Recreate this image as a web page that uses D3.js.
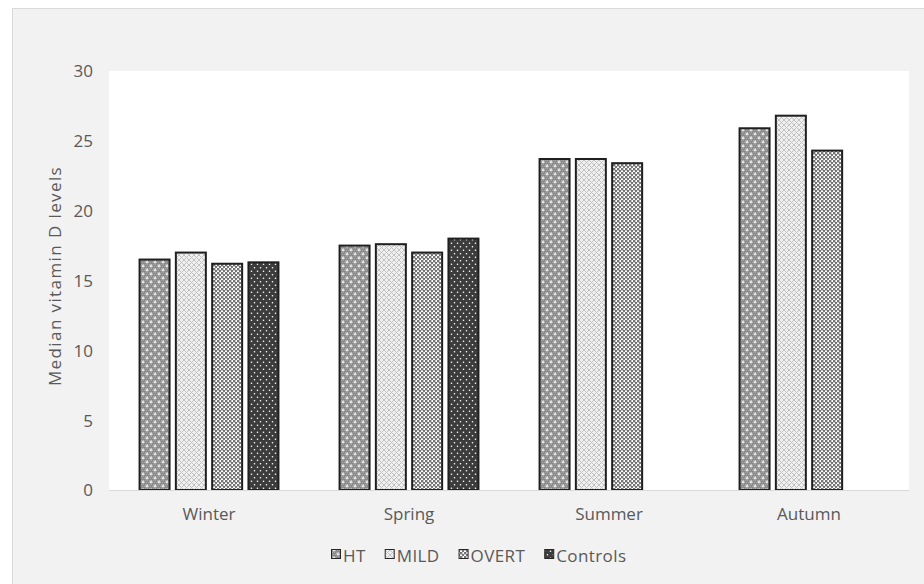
<!DOCTYPE html>
<html>
<head>
<meta charset="utf-8">
<script src="https://cdn.jsdelivr.net/npm/d3@7"></script>
<style>
  html, body { margin: 0; padding: 0; background: #ffffff; }
  svg { display: block; }
  text { font-family: "Open Sans", "DejaVu Sans", sans-serif; fill: #595959; }
</style>
</head>
<body>
<svg id="chart" width="924" height="584"></svg>
<script>
// Median vitamin D levels by season and group
const categories = ["Winter", "Spring", "Summer", "Autumn"];
const seriesNames = ["HT", "MILD", "OVERT", "Controls"];
const htValues       = [16.5, 17.5, 23.7, 25.9];
const mildValues     = [17.0, 17.6, 23.7, 26.8];
const overtValues    = [16.2, 17.0, 23.4, 24.3];
const controlsValues = [16.3, 18.0, null, null];
const yTicks = [0, 5, 10, 15, 20, 25, 30];
const yTitle = "Median vitamin D levels";

const seriesValues = [htValues, mildValues, overtValues, controlsValues];

const svg = d3.select("#chart");
const plot = { left: 109, right: 909, top: 71, bottom: 490 };

// Hatch-style fills, one per group
const defs = svg.append("defs");
function pattern(id, w, h) {
  return defs.append("pattern").attr("id", id)
    .attr("patternUnits", "userSpaceOnUse").attr("width", w).attr("height", h);
}
// HT: grey with small white crosses
{
  const p = pattern("fill-ht", 8, 8);
  p.append("rect").attr("width", 8).attr("height", 8).attr("fill", "#8a8a8a");
  for (let i = 0; i < 8; i += 2) for (let j = 0; j < 8; j += 2)
    p.append("rect").attr("x", i + ((j / 2) % 2)).attr("y", j).attr("width", 1).attr("height", 1).attr("fill", "#a8a8a8");
  [[2, 2], [6, 6]].forEach(([cx, cy]) => {
    p.append("rect").attr("x", cx - 1.5).attr("y", cy - 0.5).attr("width", 3).attr("height", 1).attr("fill", "#ffffff");
    p.append("rect").attr("x", cx - 0.5).attr("y", cy - 1.5).attr("width", 1).attr("height", 3).attr("fill", "#ffffff");
  });
}
// MILD: light diamond lattice
{
  const p = pattern("fill-mild", 5, 5);
  p.append("rect").attr("width", 5).attr("height", 5).attr("fill", "#f0f0f0");
  p.append("path").attr("d", "M0,0L5,5M5,0L0,5").attr("stroke", "#c2c2c2").attr("stroke-width", 1);
}
// OVERT: checkerboard
{
  const p = pattern("fill-overt", 4, 4);
  p.append("rect").attr("width", 4).attr("height", 4).attr("fill", "#ffffff");
  p.append("rect").attr("x", 0).attr("y", 0).attr("width", 2.4).attr("height", 2.4).attr("fill", "#767676");
  p.append("rect").attr("x", 2).attr("y", 2).attr("width", 2.4).attr("height", 2.4).attr("fill", "#767676");
}
// Controls: dark with white dots
{
  const p = pattern("fill-controls", 6, 7);
  p.append("rect").attr("width", 6).attr("height", 7).attr("fill", "#3c3c3c");
  p.append("circle").attr("cx", 1.5).attr("cy", 1.75).attr("r", 0.8).attr("fill", "#ffffff");
  p.append("circle").attr("cx", 4.5).attr("cy", 5.25).attr("r", 0.8).attr("fill", "#ffffff");
}
const fills = ["url(#fill-ht)", "url(#fill-mild)", "url(#fill-overt)", "url(#fill-controls)"];

// Chart area and plot area backgrounds
svg.append("rect").attr("x", 12.5).attr("y", 8.5).attr("width", 940).attr("height", 600)
  .attr("fill", "#f2f2f2").attr("stroke", "#d9d9d9").attr("stroke-width", 1);
svg.append("rect").attr("x", plot.left).attr("y", plot.top)
  .attr("width", plot.right - plot.left).attr("height", plot.bottom - plot.top)
  .attr("fill", "#ffffff");

// Scales
const x0 = d3.scaleBand().domain(categories).range([plot.left, plot.right]).padding(0);
const x1 = d3.scaleBand().domain(seriesNames).range([0, x0.bandwidth()])
  .paddingInner(0.1736).paddingOuter(0.842);
const y = d3.scaleLinear().domain([0, 30]).range([plot.bottom, plot.top]);

// Y axis labels
const yAxis = d3.axisLeft(y).tickValues(yTicks).tickSize(0).tickPadding(0);
const yg = svg.append("g").attr("transform", `translate(${plot.left - 16},0)`).call(yAxis);
yg.select(".domain").remove();
yg.selectAll("text").style("font-size", "17px").attr("fill", "#595959")
  .attr("font-family", null).attr("dy", "0.35em");

// Bars
const groups = svg.append("g").selectAll("g").data(categories).join("g")
  .attr("transform", d => `translate(${x0(d)},0)`);
groups.selectAll("rect")
  .data((c, ci) => seriesNames.map((s, si) => ({ s, si, v: seriesValues[si][ci] })).filter(d => d.v != null))
  .join("rect")
  .attr("x", d => x1(d.s))
  .attr("y", d => y(d.v))
  .attr("width", x1.bandwidth())
  .attr("height", d => y(0) - y(d.v))
  .attr("fill", d => fills[d.si])
  .attr("stroke", "#1f1f1f")
  .attr("stroke-width", 2);

// X axis
const xAxis = d3.axisBottom(x0).tickSize(0).tickPadding(0);
const xg = svg.append("g").attr("transform", `translate(0,${plot.bottom})`).call(xAxis);
xg.select(".domain").attr("stroke", "#d9d9d9").attr("stroke-width", 1.2);
xg.selectAll("text").style("font-size", "17px").attr("fill", "#595959")
  .attr("font-family", null).attr("y", 24).attr("dy", "0.35em");

// Y axis title
svg.append("text")
  .attr("transform", "translate(54,276) rotate(-90)")
  .attr("text-anchor", "middle").attr("dominant-baseline", "central")
  .style("font-size", "17px").style("letter-spacing", "1.4px")
  .text(yTitle);

// Legend
const legend = svg.append("g");
let lx = 331;
seriesNames.forEach((name, i) => {
  legend.append("rect").attr("x", lx + 0.5).attr("y", 549.5).attr("width", 9).attr("height", 9)
    .attr("fill", fills[i]).attr("stroke", "#262626").attr("stroke-width", 1);
  const t = legend.append("text").attr("x", lx + 12).attr("y", 555)
    .attr("dominant-baseline", "central").style("font-size", "17px").style("letter-spacing", "0.4px").text(name);
  lx += 12 + t.node().getComputedTextLength() + 19;
});
</script>
</body>
</html>
